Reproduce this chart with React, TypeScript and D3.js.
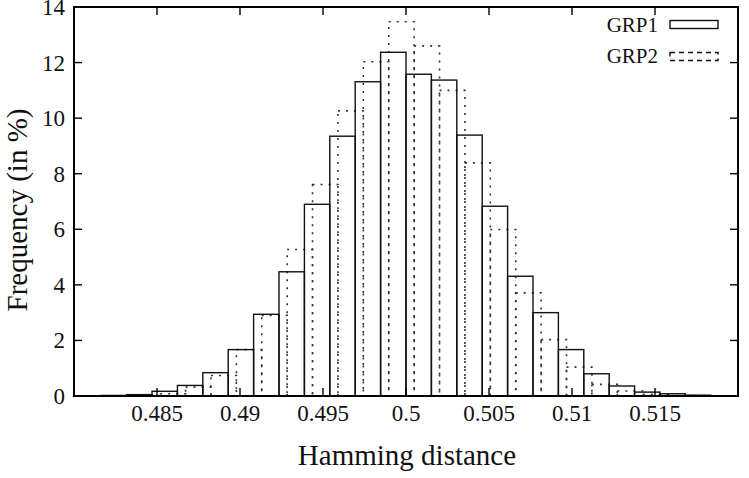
import React, { useEffect, useRef } from 'react';
import * as d3 from 'd3';

// histogram bins (bin centres) and percentages for each group
const grp1Centers = [
  0.482405, 0.483935, 0.485465, 0.486995, 0.488525, 0.490055, 0.491585, 0.493115,
  0.494645, 0.496175, 0.497705, 0.499235, 0.500765, 0.502295, 0.503825, 0.505355,
  0.506885, 0.508415, 0.509945, 0.511475, 0.513005, 0.514535, 0.516065, 0.517595,
];
const grp1Values = [
  0.02, 0.05, 0.17, 0.38, 0.84, 1.67, 2.94, 4.47, 6.9, 9.35, 11.31, 12.37,
  11.58, 11.37, 9.39, 6.83, 4.31, 3.0, 1.67, 0.8, 0.36, 0.14, 0.08, 0.03,
];
const grp2Centers = [
  0.484425, 0.485955, 0.487485, 0.489015, 0.490545, 0.492075, 0.493605, 0.495135,
  0.496665, 0.498195, 0.499725, 0.501255, 0.502785, 0.504315, 0.505845, 0.507375,
  0.508905, 0.510435, 0.511965, 0.513495, 0.515025, 0.516555,
];
const grp2Values = [
  0.02, 0.08, 0.32, 0.74, 1.67, 2.9, 5.27, 7.61, 10.26, 12.03, 13.47,
  12.6, 11.0, 8.39, 5.99, 3.71, 2.03, 1.04, 0.42, 0.18, 0.06, 0.02,
];
const binWidth = 0.00153;

const xTicks = [0.485, 0.49, 0.495, 0.5, 0.505, 0.51, 0.515];
const yTicks = [0, 2, 4, 6, 8, 10, 12, 14];

const W = 749;
const H = 478;
const FONT = "'Liberation Serif', 'Times New Roman', serif";

export default function App() {
  const ref = useRef<SVGSVGElement>(null);

  useEffect(() => {
    const svg = d3.select(ref.current);
    svg.selectAll('*').remove();

    const x = d3.scaleLinear().domain([0.48, 0.52]).range([74, 738]);
    const y = d3.scaleLinear().domain([0, 14]).range([396, 7]);

    const g = svg.append('g');

    // GRP2 - dotted boxes
    const grp2 = grp2Centers.map((c, i) => ({ c, v: grp2Values[i] }));
    g.selectAll('rect.grp2')
      .data(grp2)
      .enter()
      .append('rect')
      .attr('class', 'grp2')
      .attr('x', (d) => x(d.c - binWidth / 2))
      .attr('width', (d) => x(d.c + binWidth / 2) - x(d.c - binWidth / 2))
      .attr('y', (d) => y(d.v))
      .attr('height', (d) => y(0) - y(d.v))
      .attr('fill', 'none')
      .attr('stroke', '#333')
      .attr('stroke-width', 1.6)
      .attr('stroke-dasharray', '2,6');

    // GRP1 - solid boxes
    const grp1 = grp1Centers.map((c, i) => ({ c, v: grp1Values[i] }));
    g.selectAll('rect.grp1')
      .data(grp1)
      .enter()
      .append('rect')
      .attr('class', 'grp1')
      .attr('x', (d) => x(d.c - binWidth / 2))
      .attr('width', (d) => x(d.c + binWidth / 2) - x(d.c - binWidth / 2))
      .attr('y', (d) => y(d.v))
      .attr('height', (d) => y(0) - y(d.v))
      .attr('fill', 'none')
      .attr('stroke', '#111')
      .attr('stroke-width', 1.4);

    // tics on all four sides, pointing inwards
    const tics = svg.append('g').attr('stroke', '#000').attr('stroke-width', 1.4);
    xTicks.forEach((t) => {
      tics.append('line').attr('x1', x(t)).attr('x2', x(t)).attr('y1', y(0)).attr('y2', y(0) - 8);
      tics.append('line').attr('x1', x(t)).attr('x2', x(t)).attr('y1', y(14)).attr('y2', y(14) + 8);
    });
    yTicks.forEach((t) => {
      tics.append('line').attr('x1', x(0.48)).attr('x2', x(0.48) + 8).attr('y1', y(t)).attr('y2', y(t));
      tics.append('line').attr('x1', x(0.52)).attr('x2', x(0.52) - 8).attr('y1', y(t)).attr('y2', y(t));
    });

    // border
    svg.append('rect')
      .attr('x', x(0.48))
      .attr('y', y(14))
      .attr('width', x(0.52) - x(0.48))
      .attr('height', y(0) - y(14))
      .attr('fill', 'none')
      .attr('stroke', '#000')
      .attr('stroke-width', 2);

    // tick labels
    svg.selectAll('text.xt')
      .data(xTicks)
      .enter()
      .append('text')
      .attr('class', 'xt')
      .attr('x', (d) => x(d))
      .attr('y', 421)
      .attr('text-anchor', 'middle')
      .style('font', `23px ${FONT}`)
      .attr('fill', '#111')
      .text((d) => String(d));

    svg.selectAll('text.yt')
      .data(yTicks)
      .enter()
      .append('text')
      .attr('class', 'yt')
      .attr('x', 65)
      .attr('y', (d) => y(d) + 8)
      .attr('text-anchor', 'end')
      .style('font', `23px ${FONT}`)
      .attr('fill', '#111')
      .text((d) => String(d));

    // axis titles
    svg.append('text')
      .attr('x', 407)
      .attr('y', 465)
      .attr('text-anchor', 'middle')
      .style('font', `29px ${FONT}`)
      .attr('fill', '#111')
      .text('Hamming distance');

    svg.append('text')
      .attr('transform', `translate(27,210) rotate(-90)`)
      .attr('text-anchor', 'middle')
      .style('font', `29px ${FONT}`)
      .attr('fill', '#111')
      .text('Frequency (in %)');

    // key
    const key = [
      { label: 'GRP1', baseline: 32, top: 20.5, dash: null },
      { label: 'GRP2', baseline: 63, top: 52.5, dash: '5,4' },
    ];
    key.forEach((k) => {
      svg.append('text')
        .attr('x', 658)
        .attr('y', k.baseline)
        .attr('text-anchor', 'end')
        .style('font', `21px ${FONT}`)
        .attr('fill', '#111')
        .text(k.label);
      svg.append('rect')
        .attr('x', 670)
        .attr('y', k.top)
        .attr('width', 48)
        .attr('height', 8)
        .attr('fill', 'none')
        .attr('stroke', '#111')
        .attr('stroke-width', 1.4)
        .attr('stroke-dasharray', k.dash);
    });
  }, []);

  return (
    <div style={{ background: '#fff' }}>
      <svg
        ref={ref}
        width={W}
        height={H}
        style={{ position: 'absolute', left: 0, top: 0, background: '#fff' }}
      ></svg>
    </div>
  );
}
